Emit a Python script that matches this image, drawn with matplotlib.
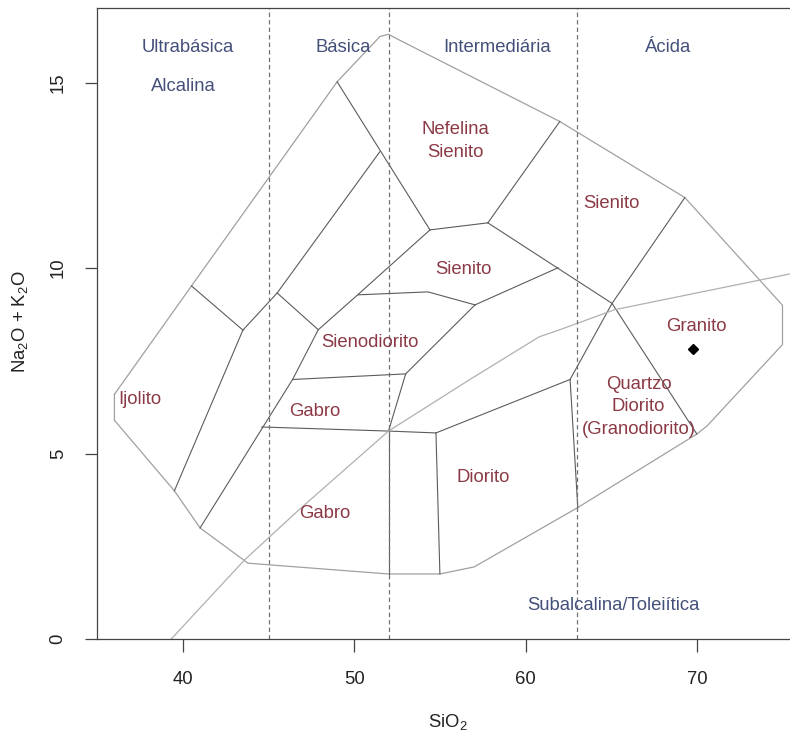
import matplotlib
matplotlib.use("Agg")
import matplotlib.pyplot as plt

plt.rcParams['font.family'] = ['Liberation Sans', 'DejaVu Sans']
plt.rcParams['mathtext.fontset'] = 'custom'
plt.rcParams['mathtext.rm'] = 'Liberation Sans'
plt.rcParams['mathtext.it'] = 'Liberation Sans:italic'

# outer envelope of the classification fields (SiO2, Na2O+K2O)
outer_x = [36.0, 36.0, 39.5, 41.0, 43.8, 52.0, 55.0, 57.0, 63.05, 70.0, 70.6, 75.0,
           75.0, 69.3, 62.0, 52.4, 52.0, 51.5, 49.0, 40.5, 36.0]
outer_y = [6.6, 5.9, 4.0, 3.0, 2.05, 1.76, 1.76, 1.95, 3.55, 5.53, 5.75, 7.94,
           9.0, 11.9, 13.95, 16.2, 16.3, 16.24, 15.02, 9.52, 6.6]

# internal field boundaries
ijolito_top = ([40.5, 43.5], [9.52, 8.33])
ijolito_right = ([43.5, 39.5], [8.33, 4.0])
upper_diag = ([43.5, 45.5, 51.5], [8.33, 9.33, 13.14])
nef_left = ([49.0, 54.42], [15.02, 11.03])
short_link = ([45.5, 47.9], [9.33, 8.34])
lower_diag = ([41.0, 46.4, 47.9, 50.2, 54.42], [3.0, 7.0, 8.34, 9.28, 11.03])
nef_bottom = ([54.42, 57.8], [11.03, 11.22])
nef_right = ([57.8, 62.0], [11.22, 13.95])
sien_right = ([57.8, 65.05, 70.0], [11.22, 9.05, 5.53])
granito_left = ([69.3, 65.05, 62.6], [11.9, 9.05, 7.0])
qd_left = ([62.6, 63.05], [7.0, 3.55])
diorito_top = ([62.6, 54.77], [7.0, 5.56])
diorito_left = ([54.77, 55.0], [5.56, 1.76])
gabro_split = ([54.77, 52.0, 44.6], [5.56, 5.61, 5.72])
gabro_right = ([52.0, 52.0], [5.61, 1.76])
sienodio_right = ([52.0, 53.0, 57.05], [5.61, 7.15, 9.01])
gabro_top = ([46.4, 53.0], [7.0, 7.15])
sienito_bottom = ([50.2, 54.3, 57.05], [9.28, 9.36, 9.01])
sienito_link = ([57.05, 61.9], [9.01, 10.01])

# alkaline / subalkaline divide
alk_x = [39.3, 43.6, 46.8, 52.0, 56.75, 60.8, 62.0, 65.2, 75.5]
alk_y = [0.0, 2.14, 3.5, 5.61, 7.0, 8.15, 8.34, 8.88, 9.85]

# silica classes
silica_cuts = [45, 52, 63]
class_names = ['Ultrabásica', 'Básica', 'Intermediária', 'Ácida']
class_x = [40.3, 49.35, 58.35, 68.3]

rock_names = ['Nefelina\nSienito', 'Sienito', 'Sienito', 'Sienodiorito', 'Granito',
              'Ijolito', 'Gabro', 'Gabro', 'Diorito', 'Quartzo\nDiorito\n(Granodiorito)']
rock_x = [55.9, 65.0, 56.4, 50.9, 70.0, 37.5, 47.7, 48.3, 57.5, 66.6]
rock_y = [13.43, 11.73, 9.96, 7.99, 8.42, 6.45, 6.13, 3.4, 4.37, 6.26]

sample_x = [69.75]
sample_y = [7.82]

fig = plt.figure(figsize=(7.9, 7.35), dpi=100)
ax = fig.add_axes([97.3 / 790, 95.7 / 735, 1 - 97.3 / 790, (639.3 - 8.3) / 735])

inner = [ijolito_top, ijolito_right, upper_diag, nef_left, short_link, lower_diag,
         nef_bottom, nef_right, sien_right, granito_left, qd_left, diorito_top,
         diorito_left, gabro_split, gabro_right, sienodio_right, gabro_top,
         sienito_bottom, sienito_link]

ax.plot(outer_x, outer_y, color='#a0a0a0', lw=0.9)
for xs, ys in inner:
    ax.plot(xs, ys, color='#5c5c5c', lw=0.8)
ax.plot(alk_x, alk_y, color='#b0b0b0', lw=0.9)

for c in silica_cuts:
    ax.axvline(c, color='#707070', lw=0.9, linestyle=(0, (3.5, 2.5)))

blue = '#44507a'
red = '#8b3a45'
fs = 13.3
for name, x in zip(class_names, class_x):
    ax.text(x, 15.94, name, color=blue, fontsize=fs, ha='center', va='center')
ax.text(40.0, 14.88, 'Alcalina', color=blue, fontsize=fs, ha='center', va='center')
ax.text(65.1, 0.92, 'Subalcalina/Toleiítica', color=blue, fontsize=fs,
        ha='center', va='center')

for name, x, y in zip(rock_names, rock_x, rock_y):
    ax.text(x, y, name, color=red, fontsize=fs, ha='center', va='center',
            linespacing=1.45)

ax.plot(sample_x, sample_y, 'D', color='black', markersize=5)

ax.set_xlim(35, 35 + (790 - 97.3) / 17.13)
ax.set_ylim(0, 17)
ax.set_xticks([40, 50, 60, 70])
ax.set_yticks([0, 5, 10, 15])
ax.spines['right'].set_visible(False)
for s in ['left', 'bottom', 'top']:
    ax.spines[s].set_color('#444444')
    ax.spines[s].set_linewidth(0.9)
ax.tick_params(direction='out', length=9, width=0.9, color='#444444',
               labelsize=fs, labelcolor='#222222')
ax.tick_params(axis='x', pad=14)
ax.tick_params(axis='y', pad=13)
for lab in ax.get_yticklabels():
    lab.set_rotation(90)
    lab.set_va('center')

fig.text(448 / 790, 1 - 722 / 735, 'SiO$_2$', fontsize=fs, ha='center', va='center',
         color='#222222')
fig.text(20 / 790, 1 - 322 / 735, 'Na$_2$O + K$_2$O', fontsize=fs, ha='center',
         va='center', rotation=90, color='#222222')

fig.savefig('out.png', dpi=100)
